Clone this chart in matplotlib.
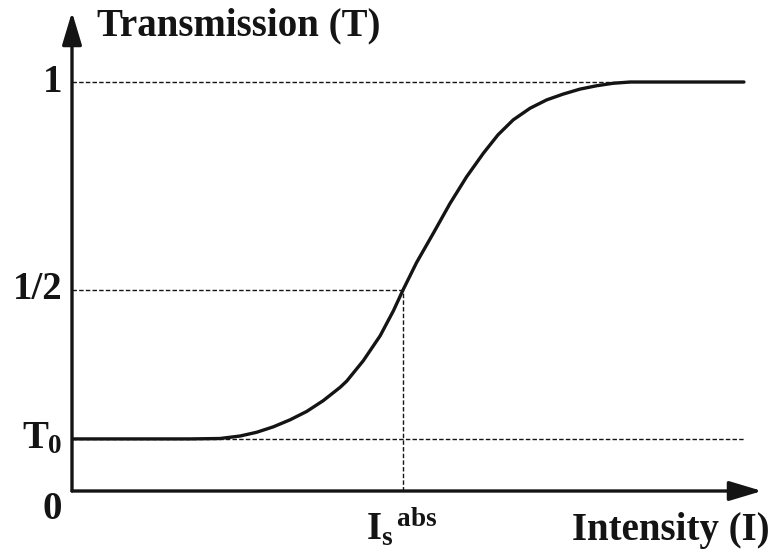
import matplotlib
matplotlib.use("Agg")
import matplotlib.pyplot as plt

plt.rcParams["font.family"] = ["Liberation Serif", "DejaVu Serif"]
plt.rcParams["font.weight"] = "bold"
plt.rcParams["mathtext.fontset"] = "custom"
plt.rcParams["mathtext.rm"] = "Liberation Serif:bold"
plt.rcParams["mathtext.it"] = "Liberation Serif:bold"
plt.rcParams["mathtext.bf"] = "Liberation Serif:bold"

# Saturable absorber transmission vs. intensity (intensity in units of I_s^abs)
intensity = [0.0, 0.236, 0.356, 0.447, 0.508, 0.558, 0.608, 0.659, 0.709,
             0.759, 0.810, 0.830, 0.880, 0.931, 0.971, 1.0, 1.041, 1.092,
             1.142, 1.192, 1.243, 1.287, 1.333, 1.384, 1.434, 1.484, 1.535,
             1.585, 1.635, 1.686, 1.776, 2.030]
transmission = [0.142, 0.142, 0.142, 0.143, 0.149, 0.158, 0.171, 0.188, 0.208,
                0.234, 0.266, 0.281, 0.330, 0.390, 0.450, 0.5, 0.566, 0.637,
                0.708, 0.772, 0.829, 0.873, 0.909, 0.937, 0.957, 0.971, 0.983,
                0.991, 0.997, 1.0, 1.0, 1.0]

T0 = 0.142
T_half = 0.5
T_max = 1.0
I_sat = 1.0
I_end = 2.030
I_top_join = 1.686

y_ticks = [T_max, T_half, T0, 0.0]
y_tick_labels = ["1", "1/2", r"$T_0$", "0"]

W, H = 773, 554
fig = plt.figure(figsize=(W / 100, H / 100), dpi=100)
ax = fig.add_axes([72 / W, (H - 491) / H, (762 - 72) / W, (491 - 12) / H])
ax.set_xlim(0, (762 - 72) / 331)
ax.set_ylim(0.0168, 1.1683)
ax.axis("off")

ink = "#141414"
dash_kw = dict(color=ink, lw=1.0, dashes=(3.2, 1.6), zorder=1)

# guide lines
ax.plot([0, I_top_join], [T_max, T_max], **dash_kw)
ax.plot([0, I_sat], [T_half, T_half], **dash_kw)
ax.plot([0, I_end], [T0, T0], **dash_kw)
ax.plot([I_sat, I_sat], [0.0168, T_half], **dash_kw)

# transmission curve
ax.plot(intensity, transmission, color=ink, lw=2.4, solid_capstyle="round",
        solid_joinstyle="round", zorder=3)

# axes with arrow heads
arrow_kw = dict(arrowstyle="-|>,head_length=1.0,head_width=0.3",
                color=ink, lw=2.4, mutation_scale=20, shrinkA=0, shrinkB=0)
ax.annotate("", xy=(0, 1), xytext=(0, 0), xycoords="axes fraction",
            arrowprops=arrow_kw, annotation_clip=False)
ax.annotate("", xy=(1, 0), xytext=(0, 0), xycoords="axes fraction",
            arrowprops=arrow_kw, annotation_clip=False)

# y tick labels
fs = 28
for val, lab in zip(y_ticks, y_tick_labels):
    dy = -8 if val == 0 else 0
    ax.annotate(lab, xy=(0, val), xytext=(-7, dy), textcoords="offset points",
                ha="right", va="center", fontsize=fs, fontweight="bold",
                color=ink, annotation_clip=False)

# x tick label at the saturation intensity
fig.text(366 / W, 1 - 540 / H, r"${I_{s}}^{\,abs}$", ha="left", va="baseline",
         fontsize=fs, color=ink)

# axis titles
fig.text(97 / W, 1 - 35 / H, "Transmission (T)", ha="left", va="baseline",
         fontsize=fs, fontweight="bold", color=ink)
fig.text(770 / W, 1 - 540 / H, "Intensity (I)", ha="right", va="baseline",
         fontsize=fs, fontweight="bold", color=ink)

fig.savefig("out.png", dpi=100, facecolor="white")
